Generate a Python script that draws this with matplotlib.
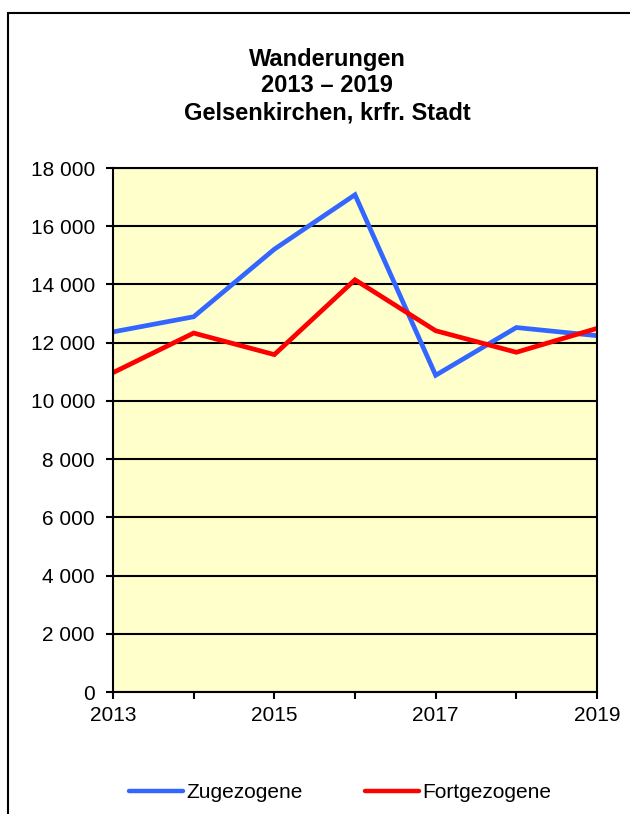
import matplotlib
matplotlib.use('Agg')
import matplotlib.pyplot as plt
from matplotlib.patches import Rectangle
from matplotlib.lines import Line2D

plt.rcParams['font.family'] = ['Liberation Sans', 'DejaVu Sans']

# Daten
years = [2013, 2014, 2015, 2016, 2017, 2018, 2019]
zugezogene = [12370, 12890, 15210, 17080, 10880, 12520, 12240]
fortgezogene = [10970, 12330, 11590, 14160, 12410, 11670, 12490]
yticks = list(range(0, 18001, 2000))
ytick_labels = ['0' if v == 0 else f'{v // 1000} {v % 1000:03d}' for v in yticks]
xtick_labels = [str(y) if y % 2 == 1 else '' for y in years]

fig = plt.figure(figsize=(6.3, 8.14), dpi=100)

# Rahmen um die Grafik
fig.patches.append(Rectangle((8 / 630, -0.05), 1.0, 1 - 13 / 814 + 0.05,
                             transform=fig.transFigure, fill=False,
                             edgecolor='black', linewidth=1.5))

ax = fig.add_axes([113 / 630, 1 - 692 / 814, 484 / 630, 524 / 814])
ax.set_facecolor('#FFFFCC')

ax.plot(years, zugezogene, color='#3366FF', linewidth=3.4, solid_joinstyle='miter')
ax.plot(years, fortgezogene, color='#FF0000', linewidth=3.4, solid_joinstyle='miter')

ax.set_xlim(2013, 2019)
ax.set_ylim(0, 18000)
ax.set_yticks(yticks)
ax.set_yticklabels(ytick_labels, fontsize=15)
ax.set_xticks(years)
ax.set_xticklabels(xtick_labels, fontsize=15)
ax.tick_params(axis='both', direction='out', length=5, width=1.5, color='black')
ax.tick_params(axis='x', pad=5)
ax.tick_params(axis='y', pad=8)
ax.grid(axis='y', color='black', linewidth=1.5)
ax.set_axisbelow(True)
for s in ax.spines.values():
    s.set_linewidth(1.5)

fig.text(327 / 630, 1 - 86 / 814, 'Wanderungen\n2013 \u2013 2019\nGelsenkirchen, krfr. Stadt',
         ha='center', va='center', fontsize=17, fontweight='bold', linespacing=1.2)

handles = [Line2D([], [], color='#3366FF', linewidth=3.2, solid_capstyle='round'),
           Line2D([], [], color='#FF0000', linewidth=3.2, solid_capstyle='round')]
fig.legend(handles, ['Zugezogene', 'Fortgezogene'], loc='center',
           bbox_to_anchor=(340 / 630, 1 - 793 / 814), ncol=2, frameon=False,
           fontsize=15, handlelength=2.6, handletextpad=0.15, columnspacing=3.0)

plt.savefig('out.png', dpi=100)
